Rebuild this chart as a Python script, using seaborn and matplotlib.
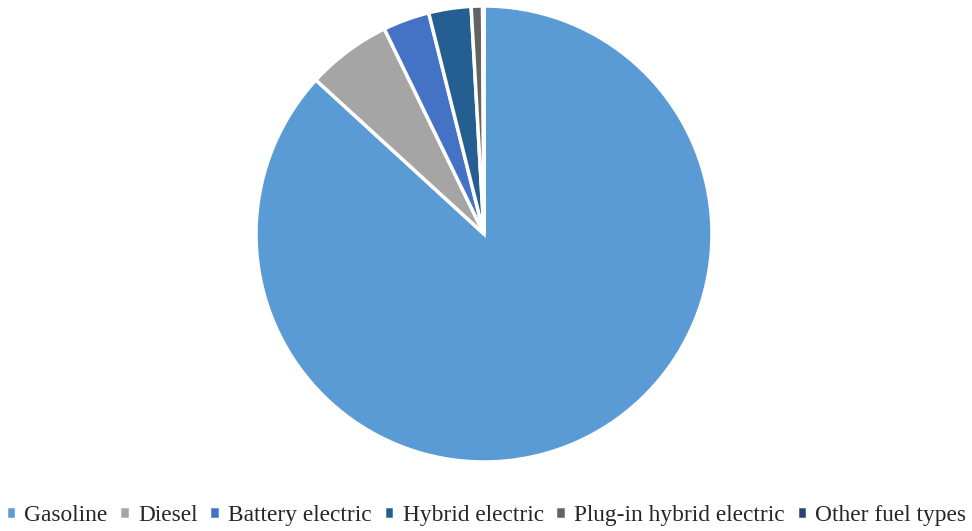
import matplotlib
matplotlib.use("Agg")
import matplotlib.pyplot as plt
import seaborn as sns

# Data
fuel_types = ["Gasoline", "Diesel", "Battery electric", "Hybrid electric",
              "Plug-in hybrid electric", "Other fuel types"]
shares = [86.8, 6.0, 3.3, 3.0, 0.8, 0.1]
colors = ["#5B9BD5", "#A5A5A5", "#4472C4", "#255E91", "#636363", "#264478"]

sns.set_theme(style="white")
plt.rcParams['font.family'] = ['Liberation Serif', 'DejaVu Serif']

fig = plt.figure(figsize=(9.72, 5.31), dpi=100)
ax = fig.add_axes([(484 - 228) / 972, (531 - 462) / 531, 456 / 972, 456 / 531])

wedges, _ = ax.pie(
    shares,
    colors=sns.color_palette(colors),
    startangle=90,
    counterclock=False,
    radius=1,
    wedgeprops=dict(edgecolor="white", linewidth=2.5),
)
ax.set_xlim(-1, 1)
ax.set_ylim(-1, 1)
ax.set_aspect("equal")

fig.legend(
    wedges, fuel_types,
    loc="lower center", bbox_to_anchor=(0.5, -0.03),
    ncol=6, frameon=False, fontsize=16.8,
    handlelength=0.46, handleheight=0.46, handletextpad=0.35,
    columnspacing=0.5,
)

fig.savefig("out.png", dpi=100)
